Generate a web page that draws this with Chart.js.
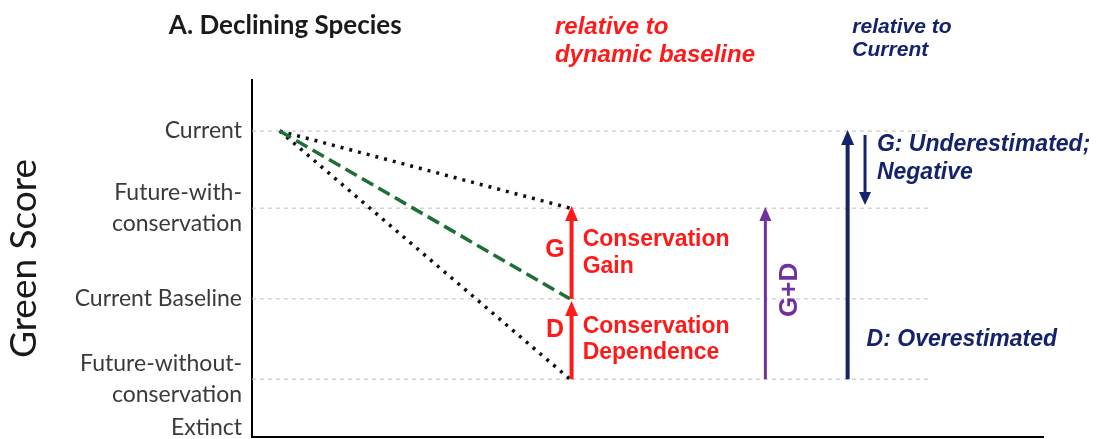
<!DOCTYPE html>
<html lang="en">
<head>
<meta charset="utf-8">
<title>A. Declining Species</title>
<script src="https://cdn.jsdelivr.net/npm/chart.js"></script>
<style>
  html, body { margin: 0; padding: 0; background: #fff; }
  #wrap { width: 1096px; height: 439px; }
</style>
</head>
<body>
<div id="wrap"><canvas id="chart" width="1096" height="439"></canvas></div>
<script>
// green score levels (0 = bottom of the axis, 100 = top of the axis)
const levelLabels = [['Current'], ['Future-with-', 'conservation'], ['Current Baseline'], ['Future-without-', 'conservation'], ['Extinct']];
const levelValues = [85.7, 64.1, 38.7, 16.2, 2.5];

// trajectories from today to the future point
const trajX = [3.5, 40.2];
const withConservation = [85.7, 64.1];
const baselineTrend = [85.7, 38.7];
const withoutConservation = [85.7, 16.2];

// dashed reference lines stop before the right edge
const gridX = [0, 86];

// arrows: x position, tail value, tip value
const arrowX = [40.4, 40.4, 64.9, 75.3, 77.5];
const arrowFrom = [38.7, 16.2, 16.2, 16.2, 84.6];
const arrowTo = [64.7, 38.1, 64.4, 86.0, 65.0];

const red = '#ff1a1a';
const navy = '#15236a';
const purple = '#7030a0';

const pairs = (xs, ys) => xs.map((x, i) => ({ x: x, y: ys[i] }));

const datasets = [];

levelValues.slice(0, 4).forEach(v => {
    datasets.push({
        data: pairs(gridX, [v, v]),
        borderColor: '#bfbfbf',
        borderWidth: 1,
        borderDash: [4, 4],
        pointRadius: 0,
        order: 10
    });
});

datasets.push({
    data: pairs(trajX, withConservation),
    borderColor: '#111',
    borderWidth: 3.5,
    borderDash: [3, 6],
    pointRadius: 0,
    order: 5
});
datasets.push({
    data: pairs(trajX, withoutConservation),
    borderColor: '#111',
    borderWidth: 3.5,
    borderDash: [3, 6],
    pointRadius: 0,
    order: 5
});
datasets.push({
    data: pairs(trajX, baselineTrend),
    borderColor: '#1f6e36',
    borderWidth: 3.5,
    borderDash: [13, 6],
    pointRadius: 0,
    order: 4
});

const arrowStyles = [
    { color: red, width: 4, len: 15, half: 6.5 },
    { color: red, width: 4, len: 15, half: 6.5 },
    { color: purple, width: 3, len: 14, half: 6 },
    { color: navy, width: 4, len: 15, half: 6.5 },
    { color: navy, width: 3, len: 13, half: 6 }
];
arrowX.forEach((x, i) => {
    datasets.push({
        data: pairs([x, x], [arrowFrom[i], arrowTo[i]]),
        showLine: false,
        pointRadius: 0,
        arrow: arrowStyles[i],
        order: 1
    });
});

// text placed in data units
const notes = [
    { text: 'A. Declining Species', x: 4.2, y: 115.2, font: 'bold 26px Lato', color: '#1a1a1a', align: 'center' },
    { text: 'relative to', x: 38.3, y: 114.8, font: 'italic bold 24px "Liberation Sans"', color: red, align: 'left' },
    { text: 'dynamic baseline', x: 38.3, y: 107.0, font: 'italic bold 24px "Liberation Sans"', color: red, align: 'left' },
    { text: 'relative to', x: 75.9, y: 114.8, font: 'italic bold 21px "Liberation Sans"', color: navy, align: 'left' },
    { text: 'Current', x: 75.9, y: 108.4, font: 'italic bold 21px "Liberation Sans"', color: navy, align: 'left' },
    { text: 'G', x: 38.3, y: 52.4, font: 'bold 25px "Liberation Sans"', color: red, align: 'center' },
    { text: 'Conservation', x: 41.8, y: 55.2, font: 'bold 23px "Liberation Sans"', color: red, align: 'left' },
    { text: 'Gain', x: 41.8, y: 47.6, font: 'bold 23px "Liberation Sans"', color: red, align: 'left' },
    { text: 'D', x: 38.3, y: 30.0, font: 'bold 25px "Liberation Sans"', color: red, align: 'center' },
    { text: 'Conservation', x: 41.8, y: 30.8, font: 'bold 23px "Liberation Sans"', color: red, align: 'left' },
    { text: 'Dependence', x: 41.8, y: 23.5, font: 'bold 23px "Liberation Sans"', color: red, align: 'left' },
    { text: 'G+D', x: 68.0, y: 41.2, font: 'bold 26px "Liberation Sans"', color: purple, align: 'center', rotate: true },
    { text: 'G: Underestimated;', x: 79.0, y: 81.8, font: 'italic bold 23px "Liberation Sans"', color: navy, align: 'left' },
    { text: 'Negative', x: 79.0, y: 74.0, font: 'italic bold 23px "Liberation Sans"', color: navy, align: 'left' },
    { text: 'D: Overestimated', x: 77.7, y: 27.2, font: 'italic bold 23px "Liberation Sans"', color: navy, align: 'left' }
];

const arrowPlugin = {
    id: 'arrows',
    afterDatasetsDraw(chart) {
        const ctx = chart.ctx;
        chart.data.datasets.forEach((ds, i) => {
            if (!ds.arrow) return;
            const pts = chart.getDatasetMeta(i).data;
            const a = pts[0], b = pts[1];
            const ang = Math.atan2(b.y - a.y, b.x - a.x);
            const st = ds.arrow;
            const bx = b.x - Math.cos(ang) * st.len;
            const by = b.y - Math.sin(ang) * st.len;
            ctx.save();
            ctx.strokeStyle = st.color;
            ctx.lineWidth = st.width;
            ctx.beginPath();
            ctx.moveTo(a.x, a.y);
            ctx.lineTo(bx, by);
            ctx.stroke();
            ctx.fillStyle = st.color;
            ctx.beginPath();
            ctx.moveTo(b.x, b.y);
            ctx.lineTo(bx + Math.sin(ang) * st.half, by - Math.cos(ang) * st.half);
            ctx.lineTo(bx - Math.sin(ang) * st.half, by + Math.cos(ang) * st.half);
            ctx.closePath();
            ctx.fill();
            ctx.restore();
        });
    }
};

const notesPlugin = {
    id: 'notes',
    afterDraw(chart) {
        const ctx = chart.ctx;
        const xs = chart.scales.x, ys = chart.scales.y;
        notes.forEach(n => {
            const px = xs.getPixelForValue(n.x);
            const py = ys.getPixelForValue(n.y);
            ctx.save();
            ctx.font = n.font;
            ctx.fillStyle = n.color;
            ctx.textAlign = n.align;
            ctx.textBaseline = 'middle';
            ctx.translate(px, py);
            if (n.rotate) ctx.rotate(-Math.PI / 2);
            ctx.fillText(n.text, 0, 0);
            ctx.restore();
        });
    }
};

new Chart(document.getElementById('chart'), {
    type: 'line',
    data: { datasets: datasets },
    plugins: [arrowPlugin, notesPlugin],
    options: {
        responsive: false,
        animation: false,
        layout: { padding: { top: 80, right: 53, bottom: 2, left: 0 } },
        plugins: {
            legend: { display: false },
            tooltip: { enabled: false }
        },
        scales: {
            x: {
                type: 'linear',
                min: 0,
                max: 100,
                ticks: { display: false },
                grid: { display: false, drawTicks: false },
                border: { display: true, color: '#000', width: 2 },
                afterFit: s => { s.height = 0; s.paddingLeft = 0; s.paddingRight = 0; }
            },
            y: {
                type: 'linear',
                min: 0,
                max: 100,
                afterBuildTicks: s => { s.ticks = levelValues.map(v => ({ value: v })); },
                afterFit: s => { s.width = 252; s.paddingTop = 0; s.paddingBottom = 0; },
                ticks: {
                    autoSkip: false,
                    padding: 10,
                    color: '#3a3a3a',
                    font: { family: 'Lato', size: 23, lineHeight: 1.35 },
                    callback: v => levelLabels[levelValues.indexOf(v)]
                },
                grid: { display: false, drawTicks: false },
                border: { display: true, color: '#000', width: 2 },
                title: {
                    display: true,
                    text: 'Green Score',
                    color: '#1a1a1a',
                    font: { family: 'Lato', size: 37 },
                    padding: { top: 2, bottom: 0 }
                }
            }
        }
    }
});
</script>
</body>
</html>
